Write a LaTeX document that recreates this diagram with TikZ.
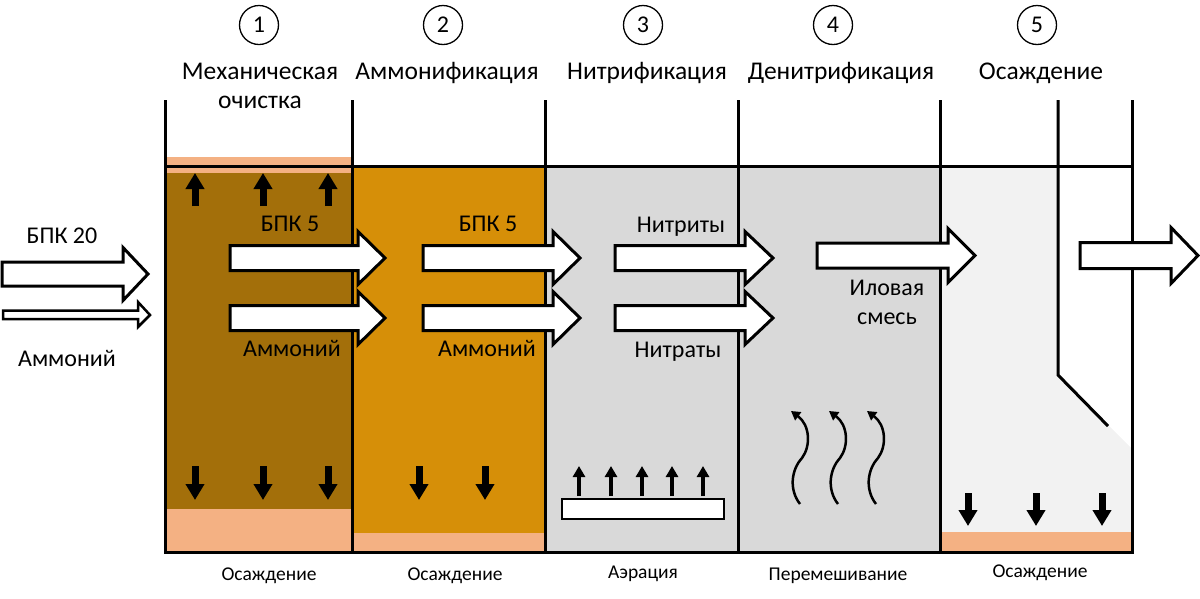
\documentclass[tikz,border=0pt]{standalone}
\usepackage{fontspec}
\setmainfont{Carlito}
\usetikzlibrary{arrows.meta}
\definecolor{brownA}{HTML}{A36F0A}
\definecolor{goldA}{HTML}{D68F08}
\definecolor{grayA}{HTML}{D9D9D9}
\definecolor{grayB}{HTML}{F2F2F2}
\definecolor{pinkA}{HTML}{F4B183}
\tikzset{
  wall/.style={line width=3pt, line join=miter},
  blockarrow/.style={draw=black, fill=white, line width=3pt, line join=miter},
  lbl/.style={font=\fontsize{24}{26}\selectfont, anchor=base, inner sep=0pt},
  title/.style={font=\fontsize{25.5}{29}\selectfont, anchor=base, inner sep=0pt},
  bottomlbl/.style={font=\fontsize{19.5}{21}\selectfont, anchor=base, inner sep=0pt},
  numcirc/.style={draw, circle, line width=1.3pt, minimum size=39pt, inner sep=0pt, font=\fontsize{24}{24}\selectfont},
  settle/.style={line width=7pt, -{Triangle[width=18pt,length=16pt]}},
  airup/.style={line width=4.5pt, -{Triangle[width=12pt,length=11pt]}},
  wave/.style={line width=2.5pt, -{Triangle[width=10pt,length=9pt]}}
}
\newcommand{\blockarr}[6]{%
  \draw[blockarrow] (#1,#4-#5) -- (#2,#4-#5) -- (#2,#4-#6) -- (#3,#4) -- (#2,#4+#6) -- (#2,#4+#5) -- (#1,#4+#5) -- cycle;}
\begin{document}
\begin{tikzpicture}[x=1pt,y=-1pt]
\useasboundingbox (0,0) rectangle (1200,598);
% fills
\fill[pinkA] (165,157) rectangle (352,173);
\fill[brownA] (165,173) rectangle (352,509);
\fill[pinkA] (165,509) rectangle (352,552);
\fill[goldA] (352,166) rectangle (545,533);
\fill[pinkA] (352,533) rectangle (545,552);
\fill[grayA] (545,166) rectangle (940,552);
\fill[grayB] (940,166) -- (1058,166) -- (1058,375) -- (1132,449) -- (1132,532) -- (940,532) -- cycle;
\fill[pinkA] (940,532) rectangle (1132,552);
% walls
\draw[wall] (165,100) -- (165,552) -- (1132,552) -- (1132,100);
\draw[wall] (165,166) -- (1132,166);
\foreach \xw in {352,545,738,940}
  \draw[wall] (\xw,100) -- (\xw,552);
\draw[wall] (1058,100) -- (1058,375) -- (1108,426);
% aeration bar
\draw[line width=2.5pt, fill=white] (562,499) rectangle (724,519);
% block arrows
\blockarr{2}{123}{148}{274}{12}{26.5}
\draw[blockarrow, line width=2.5pt] (3,310.5) -- (138,310.5) -- (138,302) -- (150,315) -- (138,327) -- (138,319) -- (3,319) -- cycle;
\blockarr{230}{358}{385}{258}{12.5}{26.5}
\blockarr{230}{358}{385}{318}{12.5}{26.5}
\blockarr{423}{553}{580}{258}{12.5}{26.5}
\blockarr{423}{553}{580}{318}{12.5}{26.5}
\blockarr{615}{745}{773}{258}{12.5}{26.5}
\blockarr{615}{745}{773}{318}{12.5}{26.5}
\blockarr{817}{948}{975}{255.5}{12.5}{27}
\blockarr{1080}{1171}{1198}{255.5}{13}{28}
% settling / rising arrows
\foreach \xa in {195,263,328}
  \draw[settle] (\xa,206) -- (\xa,173);
\foreach \xa in {195,263,328,419,485}
  \draw[settle] (\xa,466) -- (\xa,500);
\foreach \xa in {968,1036,1102}
  \draw[settle] (\xa,493) -- (\xa,526);
\foreach \xa in {579,611,642,672,703}
  \draw[airup] (\xa,496) -- (\xa,466);
% mixing arrows
\foreach \dx in {0,38,76}
  \draw[wave] (800+\dx,504) .. controls (789+\dx,490) and (791+\dx,470) .. (802+\dx,458)
     .. controls (811+\dx,446) and (810+\dx,425) .. (791+\dx,411);
% numbers
\node[numcirc] (n1) at (259,25) {1};
\node[numcirc] (n2) at (443,25) {2};
\node[numcirc] (n3) at (643,25) {3};
\node[numcirc] (n4) at (833,25) {4};
\node[numcirc] (n5) at (1037,25) {5};
% titles
\node[title] (t1) at (260,79) {Механическая};
\node[title] (t1b) at (260,108) {очистка};
\node[title] (t2) at (447,79) {Аммонификация};
\node[title] (t3) at (647,79) {Нитрификация};
\node[title] (t4) at (841,79) {Денитрификация};
\node[title] (t5) at (1041,79) {Осаждение};
% labels
\node[lbl] (inB) at (62,243) {БПК 20};
\node[lbl] (inA) at (67,366) {Аммоний};
\node[lbl] (b1) at (290,231) {БПК 5};
\node[lbl] (a1) at (292,356) {Аммоний};
\node[lbl] (b2) at (488,231) {БПК 5};
\node[lbl] (a2) at (487,356) {Аммоний};
\node[lbl] (nt1) at (681,232) {Нитриты};
\node[lbl] (nt2) at (678,357) {Нитраты};
\node[lbl] (il1) at (887,295) {Иловая};
\node[lbl] (il2) at (887,324) {смесь};
% bottom labels
\node[bottomlbl] (s1) at (269,580) {Осаждение};
\node[bottomlbl] (s2) at (455,580) {Осаждение};
\node[bottomlbl] (s3) at (643,578) {Аэрация};
\node[bottomlbl] (s4) at (838,580) {Перемешивание};
\node[bottomlbl] (s5) at (1040,577) {Осаждение};
\end{tikzpicture}
\end{document}
